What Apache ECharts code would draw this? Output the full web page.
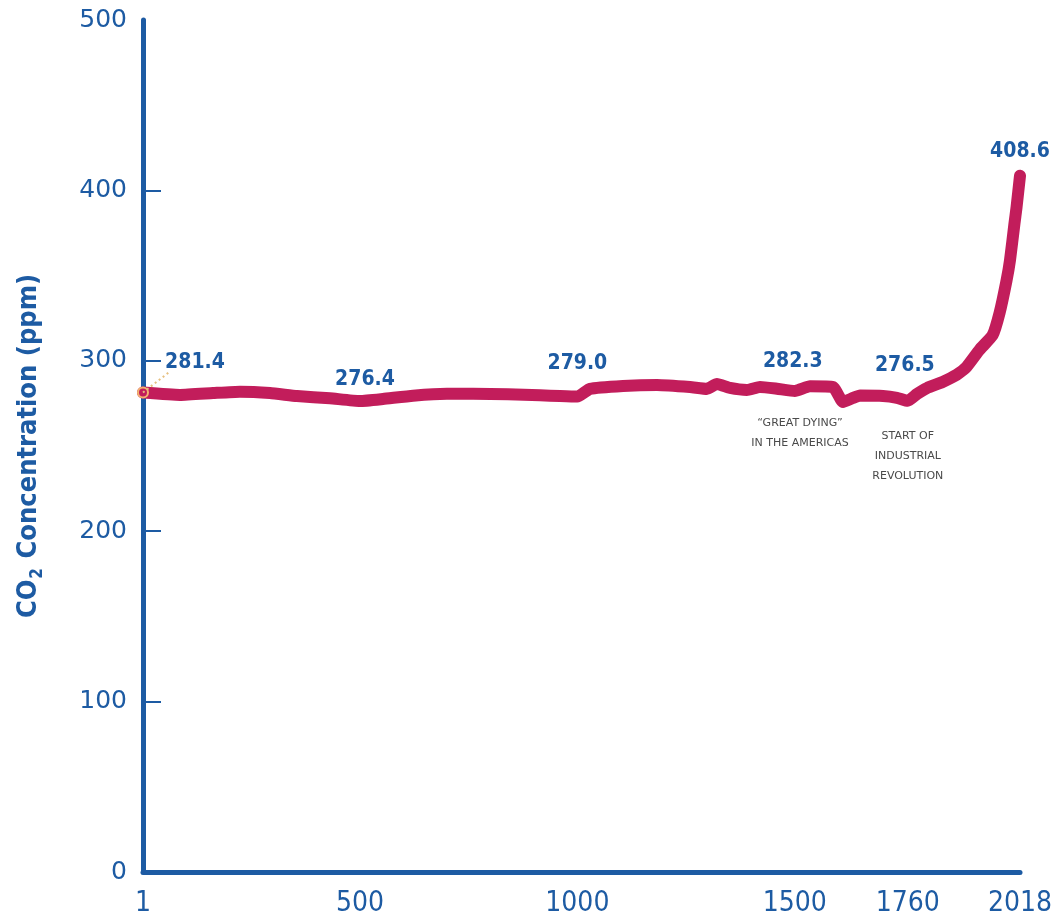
<!DOCTYPE html>
<html>
<head>
<meta charset="utf-8">
<title>CO2 Concentration, 1–2018</title>
<script src="https://cdn.jsdelivr.net/npm/echarts@6/dist/echarts.min.js"></script>
<style>
  html, body { margin: 0; padding: 0; background: #ffffff; }
  #chart { width: 1052px; height: 917px; }
</style>
</head>
<body>
<div id="chart"></div>
<script>
// Atmospheric CO2 (ppm) by year
const years = [1, 86, 162, 224, 293, 355, 431, 500, 553, 622, 700, 760, 840, 914, 960, 1000,
  1029, 1105, 1183, 1259, 1298, 1321, 1351, 1390, 1420, 1459, 1500, 1535, 1588, 1611, 1634,
  1650, 1703, 1735, 1760, 1781, 1804, 1840, 1872, 1895, 1925, 1955, 1971, 1987, 1995, 2005,
  2010, 2018];
const co2 = [281.4, 280.0, 281.1, 281.9, 281.1, 279.3, 278.0, 276.4, 277.6, 279.5, 280.6, 280.6,
  280.4, 279.8, 279.3, 279.0, 283.5, 285.2, 285.8, 284.6, 283.5, 286.4, 284.1, 282.9, 284.6,
  283.6, 282.3, 285.0, 284.6, 275.8, 278.2, 279.6, 279.4, 278.3, 276.5, 280.5, 284.0, 287.6,
  291.7, 296.4, 306.5, 315.0, 328.0, 347.0, 359.0, 380.0, 390.0, 408.6];

// Years whose value is printed above the line
const labeledYears = [1, 500, 1000, 1500, 1760, 2018];
// Year ticks along the bottom
const yearTicks = [1, 500, 1000, 1500, 1760, 2018];
// Concentration ticks
const ppmTicks = [0, 100, 200, 300, 400, 500];

// Text notes placed under the line
const notes = [
  { year: 1512, text: '\u201CGREAT DYING\u201D\nIN THE AMERICAS' },
  { year: 1760, text: 'START OF\nINDUSTRIAL\nREVOLUTION' }
];

const BLUE = '#1d5ba3';
const RED = '#c21d5b';
const CLEAR = 'rgba(0,0,0,0)';
const CONDENSED = '"Liberation Sans Narrow", "DejaVu Sans Condensed", "Roboto", sans-serif';

// Pixel offsets of the value labels from their points
const labelOffsets = {
  1: [52, -30],
  500: [5, -21],
  1000: [0, -33],
  1500: [-2, -29],
  1760: [-3, -35],
  2018: [0, -24]
};
// Offsets of the notes from their anchor on the line
const noteOffsets = [[0, 44], [0, 55]];

function valueAt(year) {
  const i = years.indexOf(year);
  if (i >= 0) return co2[i];
  for (let k = 1; k < years.length; k++) {
    if (years[k] >= year) {
      const t = (year - years[k - 1]) / (years[k] - years[k - 1]);
      return co2[k - 1] + t * (co2[k] - co2[k - 1]);
    }
  }
  return co2[co2.length - 1];
}

const lineData = years.map((y, i) => {
  const item = { value: [y, co2[i]] };
  if (labeledYears.indexOf(y) >= 0) {
    item.symbolSize = 2;
    item.itemStyle = { color: CLEAR, borderColor: CLEAR };
    item.label = {
      show: true,
      position: 'inside',
      offset: labelOffsets[y],
      formatter: co2[i].toFixed(1),
      color: BLUE,
      fontFamily: CONDENSED,
      fontWeight: 'bold',
      fontSize: 21
    };
  }
  if (y === 1) {
    item.symbolSize = 10;
    item.itemStyle = { color: RED, borderColor: '#f2b36f', borderWidth: 2 };
  }
  return item;
});

const chart = echarts.init(document.getElementById('chart'), null, { renderer: 'canvas' });

chart.setOption({
  backgroundColor: '#ffffff',
  animation: false,
  grid: { left: 143, right: 32, top: 20, bottom: 45, containLabel: false, outerBoundsMode: 'none' },
  xAxis: {
    type: 'value',
    min: yearTicks[0],
    max: yearTicks[yearTicks.length - 1],
    splitLine: { show: false },
    axisTick: { show: false },
    axisLine: { show: true, onZero: false, lineStyle: { color: BLUE, width: 5, cap: 'round' } },
    axisLabel: {
      customValues: yearTicks,
      showMinLabel: true,
      showMaxLabel: true,
      margin: 18,
      color: BLUE,
      fontFamily: CONDENSED,
      fontSize: 28,
      formatter: v => String(v)
    }
  },
  yAxis: {
    type: 'value',
    min: ppmTicks[0],
    max: ppmTicks[ppmTicks.length - 1],
    interval: 100,
    splitLine: { show: false },
    axisLine: { show: true, onZero: false, lineStyle: { color: BLUE, width: 5, cap: 'round' } },
    axisTick: {
      show: true,
      inside: true,
      length: 18,
      customValues: ppmTicks.slice(1, -1),
      lineStyle: { color: BLUE, width: 2 }
    },
    axisLabel: {
      customValues: ppmTicks,
      margin: 16,
      color: BLUE,
      fontFamily: '"DejaVu Sans", sans-serif',
      fontSize: 25
    },
    name: 'CO{sub|2} Concentration (ppm)',
    nameLocation: 'middle',
    nameRotate: 90,
    nameGap: 97,
    nameTextStyle: {
      color: BLUE,
      fontFamily: CONDENSED,
      fontWeight: 'bold',
      fontSize: 27,
      lineHeight: 34,
      rich: {
        sub: {
          color: BLUE,
          fontFamily: CONDENSED,
          fontWeight: 'bold',
          fontSize: 17,
          lineHeight: 34,
          verticalAlign: 'bottom',
          padding: [12, 1, 0, 1]
        }
      }
    }
  },
  series: [
    {
      type: 'line',
      data: lineData,
      smooth: 0.15,
      symbol: 'circle',
      symbolSize: 0,
      showSymbol: true,
      showAllSymbol: true,
      itemStyle: { color: CLEAR, borderColor: CLEAR },
      lineStyle: { color: RED, width: 12, cap: 'round', join: 'round' },
      z: 3,
      markLine: {
        silent: true,
        symbol: 'none',
        label: { show: false },
        lineStyle: { color: '#e6bf7e', type: [2, 3], width: 2 },
        data: [[{ coord: [1, co2[0]] }, { coord: [62, 293.5] }]]
      },
      markPoint: {
        silent: true,
        symbol: 'circle',
        symbolSize: 1,
        itemStyle: { color: CLEAR },
        data: notes.map((n, i) => ({
          coord: [n.year, valueAt(n.year)],
          label: {
            show: true,
            position: 'inside',
            offset: noteOffsets[i],
            formatter: n.text,
            color: '#4a4a4a',
            fontFamily: '"DejaVu Sans", sans-serif',
            fontSize: 11,
            lineHeight: 20,
            align: 'center'
          }
        }))
      }
    }
  ]
});
</script>
</body>
</html>
